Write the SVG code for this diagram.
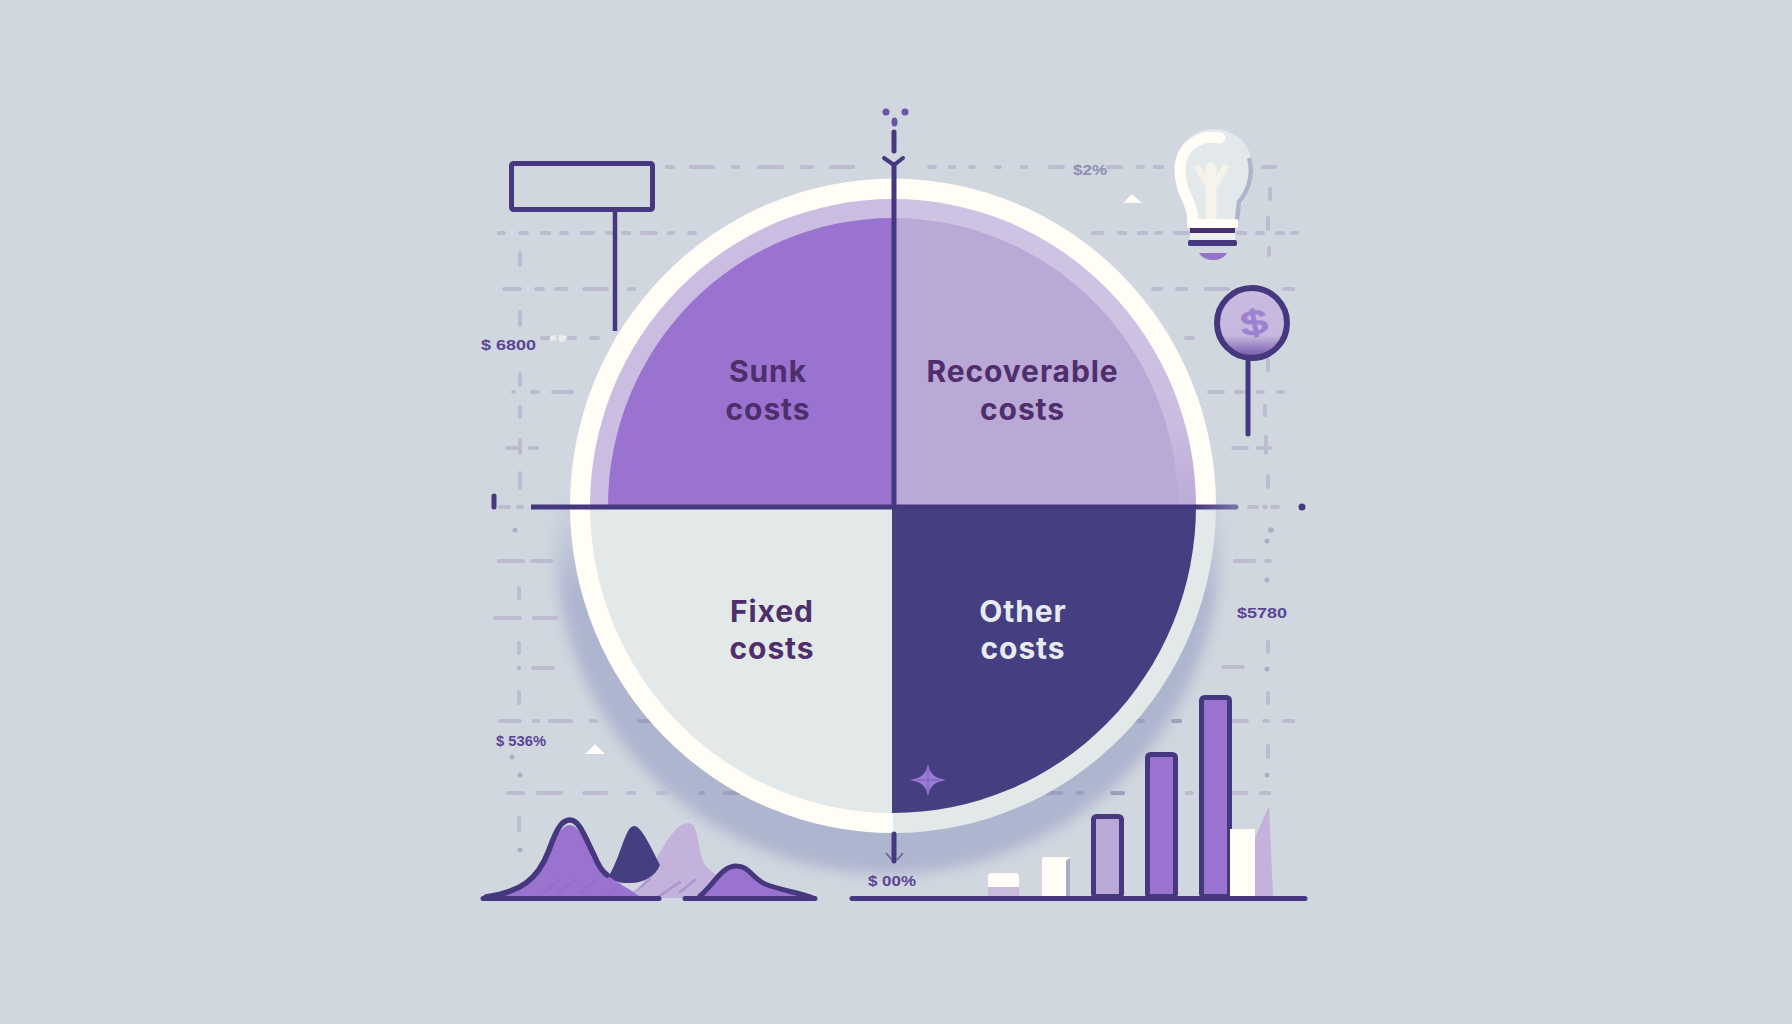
<svg xmlns="http://www.w3.org/2000/svg" width="1792" height="1024" viewBox="0 0 1792 1024">
<style>
.grid{fill:none;stroke:#bcbbd0;stroke-width:4;stroke-linecap:round}
.griddk{fill:none;stroke:#9d9fbd;stroke-width:4;stroke-linecap:round}
.griddot{fill:#b0afc8}
.ax{fill:none;stroke:#46387f;stroke-width:5;stroke-linecap:round}
.lab{font-family:Inter,"Liberation Sans",sans-serif;font-size:30px;font-weight:700;letter-spacing:0.9px;text-anchor:middle;fill:#4f2e6c}
.small{font-family:"Liberation Sans",sans-serif;font-size:15px;font-weight:700;fill:#5b4495}
.bar{stroke:#46387f;stroke-width:5;stroke-linejoin:round}
</style>
<defs>
<filter id="soft" x="-10%" y="-10%" width="120%" height="120%"><feGaussianBlur stdDeviation="7"/></filter>
<linearGradient id="shade" x1="0" y1="490" x2="0" y2="600" gradientUnits="userSpaceOnUse"><stop offset="0" stop-color="#aeb5cf" stop-opacity="0"/><stop offset="1" stop-color="#aeb5cf"/></linearGradient>
<linearGradient id="ringfade" x1="0" y1="300" x2="0" y2="506" gradientUnits="userSpaceOnUse"><stop offset="0" stop-color="#cfc3e4"/><stop offset=".6" stop-color="#cabce0"/><stop offset="1" stop-color="#bcaad8"/></linearGradient>
<linearGradient id="coin" x1="0" y1="0" x2="0" y2="1"><stop offset="0" stop-color="#c9bbe0"/><stop offset=".68" stop-color="#c6b7de"/><stop offset=".9" stop-color="#8a70bb"/><stop offset="1" stop-color="#6a549f"/></linearGradient>
<linearGradient id="fade" x1="1196" y1="0" x2="1238" y2="0" gradientUnits="userSpaceOnUse"><stop offset="0" stop-color="#46387f"/><stop offset="1" stop-color="#7c76a6"/></linearGradient>
</defs>
<rect id="background" width="1792" height="1024" fill="#d0d7df"/>
<ellipse id="shadow" cx="888" cy="546" rx="332" ry="328" fill="url(#shade)" filter="url(#soft)"/>

<g id="grid-lines">
<path class="grid" d="M667 167h6M691 167h22M733 167h5M759 167h23M802 167h10M831 167h22M929 167h6M950 167h4M970 167h4M996 167h4M1022 167h4M1050 167h13M1108 167h13M1138 167h5M1155 167h7M1263 167h12"/>
<path class="grid" d="M499 233h5M520 233h7M542 233h7M561 233h6M582 233h11M607 233h5M623 233h6M642 233h14M669 233h4M689 233h6M1093 233h9M1119 233h6M1139 233h7M1156 233h5M1175 233h13M1238 233h7M1257 233h6M1277 233h6M1292 233h5"/>
<path class="grid" d="M504 289h16M536 289h7M556 289h10M584 289h23M629 289h5M1153 289h8M1177 289h9M1206 289h22M1284 289h9"/>
<path class="grid" d="M542 338h8M569 338h6M591 338h7M1186 338h7"/>
<path class="grid" d="M513 392h1M532 392h6M553 392h19M1209 392h14M1236 392h7M1258 392h5M1278 392h5"/>
<path class="grid" d="M530 448h7M1233 448h14M1258 448h12"/>
<path class="grid" stroke-width="2" d="M507 448h10"/>
<path class="grid" d="M500 507h9M518 507h4M1249 507h8M1264 507h2M1272 507h6"/>
<path class="grid" d="M499 561h24M532 561h20M1235 561h19M1266 561h4"/>
<path class="grid" d="M495 618h25M534 618h22"/>
<path class="grid" d="M533 668h20M1223 667h20"/>
<path class="grid" d="M500 721h20M534 721h4M550 721h21M591 721h5M1233 721h14M1264 721h4M1284 721h9"/>
<path class="griddk" d="M639 721h12M1133 721h10M1173 721h7"/>
<path class="grid" d="M508 793h15M538 793h23M584 793h22M628 793h6M658 793h9M1187 793h5M1234 793h12M1261 793h8"/>
<path class="griddk" d="M700 793h3M725 793h13M1047 793h14M1078 793h4M1112 793h11"/>
<path class="grid" d="M520 253v12M520 312v13M520 374v11M520 407v10M520 440v13M520 473v15M519 588v10M519 643v10M519 692v11M519 818v12"/>
<path class="grid" d="M1270 189v10M1268 218v11M1269 248v7M1268 360v10M1265 406v9M1266 437v16M1268 476v11M1268 642v10M1268 693v10M1268 746v11"/>
<g class="griddot"><circle cx="515" cy="530" r="2.500"/><circle cx="519" cy="668" r="2"/><circle cx="512" cy="757" r="2.500"/><circle cx="520" cy="775" r="2.500"/><circle cx="520" cy="850" r="2.500"/><circle cx="1271" cy="530" r="2.800"/><circle cx="1267" cy="541" r="2.500"/><circle cx="1267" cy="580" r="2.500"/><circle cx="1267" cy="669" r="2.500"/><circle cx="1267" cy="775" r="2.500"/></g>
<path d="M550 336l6-1v5l-6 1zM559 335l8 1-3 6-5-1z" fill="#e9edee"/>
</g>

<g id="pie">
<path id="ring-top" d="M570 506A323 327.500 0 0 1 1216 506Z" fill="#fffdf5"/>
<path id="ring-bl" d="M570 506A323 327.500 0 0 0 893 833V506Z" fill="#fffdf5"/>
<path id="ring-br" d="M1216 506A323 327.500 0 0 1 893 833V506Z" fill="#e3e9e9"/>
<path d="M590 506A303 307 0 0 1 893 199V506Z" fill="#cabde1"/>
<path d="M893 199A303 307 0 0 1 1196 506H893Z" fill="url(#ringfade)"/>
<g id="sector-sunk"><path d="M608 506A285 288 0 0 1 893 218V506Z" fill="#9a73d0"/><text class="lab" x="768" y="382">Sunk</text><text class="lab" x="768" y="420">costs</text></g>
<g id="sector-recoverable"><path d="M893 218A285 288 0 0 1 1178 506H893Z" fill="#baa8d6"/><text class="lab" x="1022.500" y="382">Recoverable</text><text class="lab" x="1022.500" y="420">costs</text></g>
<g id="sector-fixed"><path d="M590 506A303 307 0 0 0 892 813V506Z" fill="#e3e9e9"/><text class="lab" x="772" y="622">Fixed</text><text class="lab" x="772" y="659">costs</text></g>
<g id="sector-other"><path d="M892 505H1196A303 307 0 0 1 892 813Z" fill="#453f82"/><text class="lab" x="1023" y="622" style="fill:#e6ebf0">Other</text><text class="lab" x="1023" y="659" style="fill:#e6ebf0">costs</text></g>
<g id="star"><path d="M928 763C929 773 934 778 946 780C934 782 929 787 928 797C927 787 922 782 910 780C922 778 927 773 928 763Z" fill="#9a7ad6"/><path d="M928 768V792M916 780H940" stroke="#7a5fb8" stroke-width="1"/></g>
</g>

<g id="connectors">
<path class="ax" d="M894 132V151"/>
<path d="M894 162V506" fill="none" stroke="#46387f" stroke-width="5"/>
<path fill="none" stroke="#46387f" stroke-width="4" stroke-linecap="round" d="M884 158L894 165L903 158"/>
<path d="M531 507H1196" fill="none" stroke="#46387f" stroke-width="5"/>
<path d="M1196 507H1236" fill="none" stroke="url(#fade)" stroke-width="5" stroke-linecap="round"/>
<path class="ax" d="M894 834V861"/>
<path fill="none" stroke="#6a5a94" stroke-width="1.500" d="M886 853L892 860M903 853L897 860"/>
<path d="M494 496V507" fill="none" stroke="#46387f" stroke-width="5" stroke-linecap="round"/>
<path d="M615 212V331" fill="none" stroke="#46387f" stroke-width="4.500"/>
<path d="M1248 360V434" fill="none" stroke="#46387f" stroke-width="5" stroke-linecap="round"/>
<circle cx="1302" cy="507" r="3.500" fill="#46387f"/>
<g fill="#6a54a8"><circle cx="886" cy="112" r="3.500"/><circle cx="905" cy="112" r="3.500"/><ellipse cx="894.500" cy="122" rx="3" ry="4.500"/></g>
</g>

<g id="label-box"><rect x="511.500" y="163.500" width="141" height="46" rx="2" fill="none" stroke="#46387f" stroke-width="5"/></g>

<g id="bulb">
<path d="M1190 222C1190 200 1175 195 1175 170C1175 146 1192 129 1214 129C1236 129 1253 146 1253 170C1253 195 1238 200 1238 222Z" fill="#e3e8ea"/>
<path d="M1249 158C1255 178 1245 195 1239 202L1237 220" fill="none" stroke="#b0b4cc" stroke-width="4.500"/>
<path d="M1193 222C1193 200 1180 195 1180 170C1180 148 1198 134 1220 138" fill="none" stroke="#fffdf5" stroke-width="11" stroke-linecap="round"/>
<path d="M1198 168L1209 186M1225 168L1214 186" fill="none" stroke="#f6f4ea" stroke-width="6.500" stroke-linecap="round"/>
<path d="M1211 168V218" fill="none" stroke="#f6f4ea" stroke-width="11" stroke-linecap="round"/>
<rect x="1187" y="219" width="51" height="9" rx="2" fill="#fffdf5"/>
<rect x="1190" y="228" width="45" height="5" fill="#46306f"/>
<rect x="1190" y="233" width="45" height="7" fill="#eef0f0"/>
<rect x="1188" y="240" width="49" height="6" rx="2" fill="#46387f"/>
<path d="M1199 253H1227C1224 258 1219 260 1213 260C1207 260 1202 258 1199 253Z" fill="#9573c8"/>
</g>

<g id="coin">
<circle cx="1252" cy="323" r="35" fill="url(#coin)" stroke="#46387f" stroke-width="6"/>
<text x="1254" y="335" font-family="'Liberation Sans',sans-serif" font-size="36" font-weight="400" text-anchor="middle" fill="#9d83cf" stroke="#9d83cf" stroke-width="1.500" transform="translate(1254 323) rotate(-10) scale(1.300 .95) translate(-1254 -323)">$</text>
</g>

<g id="mountains">
<path d="M632 898C650 880 668 823 688 823C702 823 695 860 710 870C720 878 735 890 745 898Z" fill="#c3b3dc"/>
<path d="M608 877C620 860 625 826 634 826C642 826 652 850 660 865C655 878 640 884 628 883C620 883 612 881 608 877Z" fill="#453f82"/>
<path d="M488 897C520 892 540 880 550 852C558 830 565 825 570 825C582 825 592 860 607 875C620 885 632 890 642 898Z" fill="#9a73d0"/>
<path d="M486 897C520 892 538 880 549 850C558 825 563 820 570 820C580 820 586 840 594 855C598 865 603 872 607 875" fill="none" stroke="#46387f" stroke-width="5.500" stroke-linecap="round"/>
<path d="M700 898C714 884 722 866 736 866C750 866 750 877 765 884C780 890 800 893 813 898Z" fill="#9a73d0"/>
<path d="M700 896C714 884 722 866 736 866C750 866 750 877 765 884C780 890 800 893 813 898" fill="none" stroke="#46387f" stroke-width="5" stroke-linecap="round"/>
<path d="M545 892L558 881M558 893L575 881M580 893L594 881M607 896L620 884M630 896L650 879M680 892L695 880M658 897L680 882" fill="none" stroke="#8a68bd" stroke-opacity=".4" stroke-width="2.500" stroke-linecap="round"/>
<path d="M483 898.500H659M685 898.500H815" fill="none" stroke="#46387f" stroke-width="5" stroke-linecap="round"/>
</g>

<g id="bars">
<path d="M1230 829H1255V838L1269 806L1273 896H1230Z" fill="#c3b3dc"/>
<rect x="988" y="886" width="31" height="11" fill="#c8bbdc"/>
<path d="M988 877Q988 873 992 873H1016Q1019 873 1019 877V887H988Z" fill="#fffdf5"/>
<rect x="1066" y="859" width="4" height="38" fill="#a9adc8"/>
<path d="M1042 859Q1042 857 1044 857H1070L1066 861V897H1042Z" fill="#fffdf5"/>
<rect class="bar" x="1093.500" y="816.500" width="28" height="80" rx="3" fill="#baa8d6"/>
<rect class="bar" x="1147.500" y="754.500" width="28" height="142" rx="3" fill="#9a73d0"/>
<rect class="bar" x="1201.500" y="697.500" width="28" height="199" rx="3" fill="#9a73d0"/>
<rect x="1230" y="829" width="25" height="68" fill="#fffdf5"/>
<path d="M852 898.500H1305" fill="none" stroke="#46387f" stroke-width="5" stroke-linecap="round"/>
</g>

<g id="notes">
<text class="small" x="481" y="350" textLength="55" lengthAdjust="spacingAndGlyphs">$ 6800</text>
<text class="small" x="496" y="746" textLength="50" lengthAdjust="spacingAndGlyphs">$ 536%</text>
<text class="small" x="868" y="886" textLength="48" lengthAdjust="spacingAndGlyphs">$ 00%</text>
<text class="small" x="1237" y="618" textLength="50" lengthAdjust="spacingAndGlyphs">$5780</text>
<text class="small" x="1073" y="175" textLength="34" lengthAdjust="spacingAndGlyphs" style="fill:#8f8fb0">$2%</text>
<path d="M1123 203L1132 194L1142 203Z M585 754L595 744L605 754Z" fill="#fffdf5"/>
</g>
</svg>
